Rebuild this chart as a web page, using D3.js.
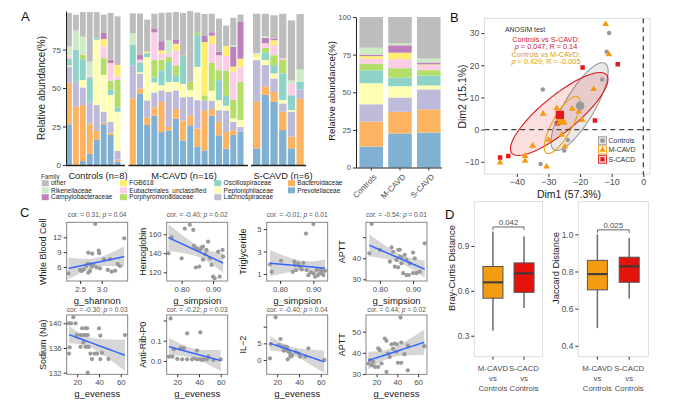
<!DOCTYPE html>
<html>
<head>
<meta charset="utf-8">
<script src="https://cdn.jsdelivr.net/npm/d3@7"></script>
<style>
  body { margin: 0; background: #fff; }
  svg text { font-family: "Liberation Sans", Arial, sans-serif; }
</style>
</head>
<body>
<div id="chart"></div>
<script>
// ---------- data ----------
// stacking order bottom -> top
const families = ["Prevotellaceae", "Bacteroidaceae", "Lachnospiraceae", "Peptoniphilaceae",
  "Oscillospiraceae", "Porphyromonadaceae", "Eubacteriales_unclassified", "FGB618",
  "Campylobacteraceae", "Rikenellaceae", "other"];
const famColors = ["#80b1d3", "#fdb462", "#bebada", "#ffffb3", "#8dd3c7", "#b3de69",
  "#fccde5", "#ffed6f", "#bc80bd", "#ccebc5", "#bdbdbd"];

const groups = ["Controls", "M-CAVD", "S-CAVD"];
const groupLabels = ["Controls (n=8)", "M-CAVD (n=16)", "S-CAVD (n=6)"];

// per-sample relative abundance (%), same order as families
const controlsAbund = [
  [26.5, 27, 10.4, 0.7, 4.5, 0, 1.5, 0.5, 0, 6, 21.7],
  [0, 37.8, 16.3, 0, 20.6, 0, 0, 0, 0, 12.6, 10.3],
  [2.6, 36.3, 11.5, 4.8, 13.5, 2.8, 0.6, 0, 0, 11.2, 16],
  [7.4, 19.6, 13.5, 0, 16.5, 0, 0.9, 0, 0, 9.3, 32.2],
  [16.5, 5.7, 16.7, 42.4, 1, 0, 0, 0, 0, 0, 17],
  [26.5, 0.9, 7.2, 23.9, 0, 10.9, 7.6, 4.8, 3.9, 0, 12],
  [19.6, 1.5, 7, 17.4, 3.3, 5.9, 11.5, 0, 2.2, 0, 30.4],
  [2.2, 1.3, 5.7, 25.4, 2.8, 17.8, 2.2, 7.6, 0, 0, 31.5]
];
const mcavdAbund = [
  [0, 43.3, 21.2, 0, 13.4, 0, 0, 0, 0, 7.6, 13],
  [46.5, 3.2, 9.7, 0.8, 6.5, 0, 1.7, 0, 3, 0, 27],
  [26, 5, 11, 28, 2.6, 0, 0, 1, 0, 0, 20.8],
  [32, 5.4, 9.7, 6.5, 3.2, 11.3, 18, 0, 2.6, 0, 9.6],
  [21.4, 19.5, 7.6, 3.2, 9.7, 6.9, 3.9, 2.2, 6, 0, 18.4],
  [22.5, 2.2, 22.7, 6.5, 13, 3.2, 2.2, 0, 0, 8.7, 18],
  [30, 6.5, 12, 5.4, 4.3, 6.5, 9.7, 4.3, 2.6, 0, 18],
  [16, 13, 15, 8.7, 18.4, 0, 0, 0, 0, 0, 27.7],
  [25.8, 6.5, 12, 4.3, 0, 5.4, 0, 0, 0, 0, 46],
  [11.7, 12, 18.4, 21.6, 20.6, 1.5, 0, 0, 0, 0, 13.2],
  [9.5, 26, 6.5, 0, 0, 3.2, 0, 34.6, 4.3, 0, 14],
  [32, 4.3, 5.4, 6.5, 0, 18.4, 12, 5.4, 2.2, 0, 12],
  [19.3, 8.7, 7.6, 6.5, 13, 6.5, 9.7, 0, 2.2, 0, 21.6],
  [10.6, 10.8, 14, 3, 6.5, 16.2, 9.7, 6.5, 0, 0, 13.2],
  [19.5, 3.2, 5.4, 2.2, 0, 12, 18.4, 3.2, 13, 1, 17.7],
  [21.6, 0, 3.2, 4.3, 0, 24.9, 9.7, 5.4, 23.8, 0, 4.8]
];
const scavdAbund = [
  [10.8, 30.3, 27, 2.2, 0, 0, 0, 1.5, 0, 1, 25.5],
  [45.5, 5.4, 14, 3.2, 5, 3, 3, 0, 3.5, 1, 14.5],
  [41, 6.5, 8.7, 3.2, 5.4, 6.5, 6.5, 3.2, 1, 0, 15.2],
  [22.7, 11.9, 5.4, 2.2, 17.3, 8.7, 1, 0, 0, 0, 29],
  [10.8, 7.6, 16.2, 1, 9.7, 0, 7.6, 0, 0, 2, 39],
  [0, 43, 6, 0, 5, 0, 0, 0, 0, 8, 36]
];
// group means
const groupMeanAbund = [
  [13.9, 16.6, 11.5, 14, 8.6, 4.4, 3.3, 1.7, 1, 4.6, 20.4],
  [22.6, 14.4, 9.5, 7.5, 5.7, 6.3, 6, 4.3, 4.9, 1.3, 17.5],
  [23.2, 15.4, 13.3, 2.6, 6.6, 3.6, 3.3, 0.5, 1.3, 2.6, 27.6]
];

// PCoA (Dim1, Dim2)
const ctrlPcoa = [[-10.8, 30], [-11.6, 24.2], [-13, 15.6], [-31.8, 12.5], [-23.9, -3.2],
  [-25, -6.5], [-32.5, -10.7], [-27.6, 2]];
const mcavdPcoa = [[-11.9, 32.8], [-10.9, 23.4], [-15.7, 12.6], [-22.5, 6.5], [-20.4, 5.6],
  [-27.4, 6.6], [-31.7, 4.9], [-19.3, 3], [-26.6, 2.7], [-25.3, 2.2], [-25.8, -1.6],
  [-30, -3.2], [-35, -5], [-24.8, -5.3], [-37.4, -8.2], [-37.4, -9.7], [-45.3, -10.2], [-30.6, -11.5]];
const scavdPcoa = [[-8.1, 20.3], [-19.2, 19.3], [-15.3, 2.8], [-27, 2], [-42.7, -8.2], [-45.3, -8.7]];
const pcoaCentroids = [[-20, 7.4], [-25.8, 2.6], [-26.4, 4.6]];
// confidence ellipses: centre, semi-axis vectors (data units)
const ellipseCenters = [[-20.15, 7.15], [-26.6, 4.85], [-25.7, 1.45]];
const ellipseMajor = [[8.05, 13.45], [15, 12.15], [4.9, 8.75]];
const ellipseMinor = [[4.1, -2.35], [3.62, -4.32], [2.78, -1.49]];

// correlation scatter panels
const wbcShannon = [[2.85, 14.7], [3.52, 11.8], [2.69, 8.9], [2.78, 8.7], [2.93, 9.3], [2.94, 8.8], [3.19, 7.6],
  [3.37, 6.6], [3.42, 6.2], [3.31, 5.25], [3.14, 5.4], [3.23, 5.05], [2.88, 5.9], [2.96, 5.7], [2.77, 6.06],
  [2.67, 6.6], [2.64, 6.2], [2.73, 6.6], [2.5, 5.4], [2.54, 5.2], [2.58, 5.5], [2.69, 4.85], [2.73, 5.2],
  [2.23, 4.7], [3.05, 7.55], [2.81, 6.4]];
const hgbSimpson = [[0.758, 140], [0.768, 156.8], [0.80, 134.7], [0.81, 166], [0.826, 170], [0.837, 164.6],
  [0.839, 147.7], [0.847, 145], [0.858, 143.5], [0.863, 146], [0.879, 143.5], [0.856, 126], [0.845, 125],
  [0.868, 133.3], [0.868, 147], [0.89, 134.7], [0.895, 127.7], [0.90, 115.4], [0.905, 113.7], [0.921, 115.4],
  [0.932, 136.5], [0.916, 141.7], [0.93, 143.5], [0.884, 152.2], [0.875, 139]];
const tgSimpson = [[0.90, 5.44], [0.878, 4.6], [0.803, 2.18], [0.77, 1.86], [0.775, 1.2], [0.843, 2.1],
  [0.855, 1.95], [0.838, 1.2], [0.86, 1.65], [0.87, 2.0], [0.865, 1.42], [0.88, 1.36], [0.885, 0.9],
  [0.892, 1.15], [0.90, 1.06], [0.905, 0.76], [0.91, 1.36], [0.913, 0.88], [0.92, 1.06], [0.925, 1.2],
  [0.93, 0.91], [0.935, 1.3], [0.922, 1.42], [0.845, 1.8], [0.848, 1.36]];
const apttSimpson = [[0.775, 56.3], [0.768, 42.4], [0.80, 44], [0.835, 45.2], [0.84, 43.1], [0.855, 44],
  [0.86, 40.8], [0.85, 39.2], [0.845, 36], [0.855, 35.7], [0.83, 38.4], [0.865, 37.6], [0.87, 32.9],
  [0.88, 32], [0.86, 44], [0.865, 40.3], [0.875, 41.6], [0.88, 39.2], [0.89, 37.6], [0.90, 42.7],
  [0.905, 40], [0.91, 32.9], [0.92, 33.6], [0.935, 47.1], [0.90, 32.9], [0.887, 32]];
const naEveness = [[16.4, 141], [12.4, 140], [14.5, 140], [18.5, 140], [13, 136.1], [12.4, 135.1], [23, 138.1],
  [25.5, 138.1], [27.5, 138.1], [29.6, 138.1], [19.4, 138.1], [24.5, 139.2], [27.5, 139.2], [29.1, 139.2],
  [40, 139.2], [41.2, 138], [23, 136.2], [27.5, 136.2], [29.6, 136.2], [25.5, 136.9], [32.1, 135.1],
  [36, 135.1], [38.2, 135.1], [30.5, 136.2], [42.7, 135.2], [33.6, 134.2], [41.2, 134.2], [48.7, 134.2],
  [29.6, 132], [63.9, 138.1]];
const ribEveness = [[13.9, 0.21], [29.1, 0.136], [41.2, 0.141], [16.9, 0.058], [23, 0.063], [26, 0.063],
  [12.4, 0.021], [15.5, 0.021], [24.5, 0.008], [29.1, 0.008], [33.6, 0.008], [38.2, 0.008], [41.2, 0.008],
  [38.2, 0.051], [44.2, 0.008], [47.3, 0.008], [48.7, 0.021], [42.7, 0.005], [53.3, 0.005], [60, 0.008],
  [20, 0.01], [35, 0.012]];
const il2Eveness = [[18.5, 12.8], [23, 6.3], [13.9, 4.8], [21.5, 4.5], [24.5, 4.0], [27.5, 4.0], [13.3, 0.5],
  [27.5, 3.0], [29.1, 3.8], [30.5, 2.5], [32.1, 1.8], [33.6, 1.3], [29.6, 0.2], [36.6, 2.5], [39.6, 2.0],
  [41.2, 1.0], [48.7, 3.5], [45.7, 1.0], [32.1, 1.0], [63.3, 0], [26, 2.8]];
const apttEveness = [[43.1, 56.7], [27.9, 46.8], [29.5, 45.7], [21.6, 42.1], [23.2, 41.3], [34.3, 44.1],
  [37.4, 44.4], [35.9, 42], [39, 40.5], [31.1, 39.7], [32.7, 38.1], [13.6, 36.6], [16.8, 35.8], [12, 35],
  [15.2, 34.2], [18.4, 33.4], [21.5, 33.4], [24.8, 35], [29.5, 31], [40.6, 35.3], [43.8, 35.3], [39.6, 44.1],
  [46.9, 39.4], [43.8, 44.9], [50.1, 43.6], [66, 43.2], [50.1, 31.8]];

const corTitles = [["0.31", "0.04"], ["-0.40", "0.02"], ["-0.01", "0.01"], ["-0.54", "0.01"],
  ["-0.30", "0.03"], ["-0.22", "0.03"], ["-0.40", "0.04"], ["0.44", "0.02"]];

// distance boxplots: [lower whisker, q1, median, q3, upper whisker]
const distGroups = ["M-CAVD", "S-CACD"];
const brayBox = [[0.333, 0.551, 0.657, 0.763, 0.997], [0.486, 0.59, 0.717, 0.787, 0.963]];
const jaccardBox = [[0.495, 0.701, 0.786, 0.86, 1.0], [0.654, 0.742, 0.828, 0.877, 0.98]];
const distPvals = ["0.042", "0.025"];

// ---------- drawing ----------
const W = 673, H = 410;
const FONT = "Liberation Sans, Arial, sans-serif";
const ORANGE = "#f39c12", RED = "#e41a1c", GREY = "#999999";

const svg = d3.select("#chart").append("svg")
  .attr("width", W).attr("height", H)
  .style("background", "#fff");

function styleAxis(g, fs, keepDomain) {
  g.attr("font-family", FONT).attr("font-size", fs);
  if (!keepDomain) g.select(".domain").remove();
  g.selectAll(".tick line").attr("stroke", "#333");
  g.selectAll(".tick text").attr("fill", "#4d4d4d");
}

// panel letters
[["A", 21, 21], ["B", 450, 22], ["C", 20, 217], ["D", 445, 219]].forEach(d => {
  svg.append("text").attr("x", d[1]).attr("y", d[2]).attr("font-size", 13).attr("fill", "#111").text(d[0]);
});

// ===== A: per-sample stacked bars =====
const yA = d3.scaleLinear().domain([0, 100]).range([165, 11]);
const facetRanges = [[66, 120.5], [129.8, 243.5], [253, 303.8]];
const facetAxis = [[66, 125], [128.5, 248], [251, 306]];
const facetLabelX = [98, 184, 283];
const stack = d3.stack().keys(d3.range(families.length)).value((d, k) => d[k]);

[controlsAbund, mcavdAbund, scavdAbund].forEach((rows, gi) => {
  const x = d3.scaleBand().domain(d3.range(rows.length)).range(facetRanges[gi]).paddingInner(0.16);
  const g = svg.append("g");
  g.selectAll("g").data(stack(rows)).enter().append("g")
    .attr("fill", (d, i) => famColors[i])
    .selectAll("rect").data(d => d).enter().append("rect")
    .attr("x", (d, i) => x(i))
    .attr("y", d => yA(d[1]))
    .attr("width", x.bandwidth())
    .attr("height", d => yA(d[0]) - yA(d[1]));
  svg.append("line")
    .attr("x1", facetAxis[gi][0]).attr("x2", facetAxis[gi][1])
    .attr("y1", yA(0) + 0.5).attr("y2", yA(0) + 0.5)
    .attr("stroke", "#222").attr("stroke-width", 1.6);
  svg.append("text").attr("x", facetLabelX[gi]).attr("y", 178.5)
    .attr("text-anchor", "middle").attr("font-size", 9.3).attr("fill", "#1a1a1a")
    .text(groupLabels[gi]);
});
svg.append("g").attr("transform", "translate(66,0)")
  .call(d3.axisLeft(yA).tickValues([0, 25, 50, 75]).tickSize(3).tickSizeOuter(0).tickPadding(2))
  .call(g => styleAxis(g, 8, true))
  .call(g => g.select(".domain").attr("stroke", "#222"));
svg.append("text").attr("transform", "translate(41.5,88) rotate(-90)")
  .attr("text-anchor", "middle").attr("dy", "0.35em").attr("font-size", 10).attr("fill", "#1a1a1a")
  .text("Relative abundance(%)");

// legend
svg.append("text").attr("x", 41).attr("y", 178.5).attr("font-size", 6.3).attr("fill", "#333").text("Family");
const legColX = [41.7, 120, 214.3, 288];
const legRowY = [183.2, 190.3, 197.2];
families.slice().reverse().forEach((f, i) => {
  const col = Math.floor(i / 3), row = i % 3;
  const ci = families.length - 1 - i;
  svg.append("rect").attr("x", legColX[col]).attr("y", legRowY[row] - 3)
    .attr("width", 7).attr("height", 6).attr("fill", famColors[ci]);
  svg.append("text").attr("x", legColX[col] + 9.3).attr("y", legRowY[row]).attr("dy", "0.35em")
    .attr("font-size", 6.5).attr("fill", "#222").text(f);
});

// ===== A: group mean stacked bars =====
const yA2 = d3.scaleLinear().domain([0, 100]).range([167.5, 17]);
const xA2 = d3.scaleBand().domain(groups).range([358, 442]).paddingInner(0.18).paddingOuter(0.05);
svg.append("g").selectAll("g").data(stack(groupMeanAbund)).enter().append("g")
  .attr("fill", (d, i) => famColors[i])
  .selectAll("rect").data(d => d).enter().append("rect")
  .attr("x", (d, i) => xA2(groups[i]))
  .attr("y", d => yA2(d[1]))
  .attr("width", xA2.bandwidth())
  .attr("height", d => yA2(d[0]) - yA2(d[1]));
svg.append("g").attr("transform", "translate(356,0)")
  .call(d3.axisLeft(yA2).tickValues([0, 25, 50, 75, 100]).tickSize(3).tickSizeOuter(0).tickPadding(2))
  .call(g => styleAxis(g, 7.6, true))
  .call(g => g.select(".domain").attr("stroke", "#222"));
svg.append("line").attr("x1", 356).attr("x2", 442).attr("y1", yA2(0) + 0.5).attr("y2", yA2(0) + 0.5)
  .attr("stroke", "#222").attr("stroke-width", 1.2);
groups.forEach(gname => {
  const cx = xA2(gname) + xA2.bandwidth() / 2;
  svg.append("line").attr("x1", cx).attr("x2", cx).attr("y1", yA2(0)).attr("y2", yA2(0) + 3).attr("stroke", "#333");
  svg.append("text").attr("transform", `translate(${cx + 2},${yA2(0) + 6}) rotate(-45)`)
    .attr("text-anchor", "end").attr("dy", "0.7em").attr("font-size", 8).attr("fill", "#4d4d4d").text(gname);
});
svg.append("text").attr("transform", "translate(331.5,91) rotate(-90)")
  .attr("text-anchor", "middle").attr("dy", "0.35em").attr("font-size", 9.6).attr("fill", "#1a1a1a")
  .text("Relative abundance(%)");

// ===== B: PCoA =====
const xB = d3.scaleLinear().domain([-50.3, 2.12]).range([484.3, 650]);
const yB = d3.scaleLinear().domain([-13.8, 34.6]).range([174, 18.3]);
svg.append("rect").attr("x", 484.3).attr("y", 18.3).attr("width", 650 - 484.3).attr("height", 174 - 18.3)
  .attr("fill", "#fff").attr("stroke", "#d4d4d4").attr("stroke-width", 0.8);
svg.append("defs").append("clipPath").attr("id", "clipB")
  .append("rect").attr("x", 484.3).attr("y", 18.3).attr("width", 650 - 484.3).attr("height", 174 - 18.3);
const gB = svg.append("g").attr("clip-path", "url(#clipB)");

const ellStyles = [
  { stroke: "#9a9a9a", fill: "#c8c8c8", op: 0.4 },
  { stroke: "#d7191c", fill: RED, op: 0.14 },
  { stroke: ORANGE, fill: "none", op: 0 }
];
ellipseCenters.forEach((c, i) => {
  const a = ellipseMajor[i], b = ellipseMinor[i];
  const pts = d3.range(0, 101).map(k => {
    const t = 2 * Math.PI * k / 100;
    return [c[0] + Math.cos(t) * a[0] + Math.sin(t) * b[0], c[1] + Math.cos(t) * a[1] + Math.sin(t) * b[1]];
  });
  gB.append("path").attr("d", d3.line().x(d => xB(d[0])).y(d => yB(d[1]))(pts) + "Z")
    .attr("fill", ellStyles[i].fill).attr("fill-opacity", ellStyles[i].op)
    .attr("stroke", ellStyles[i].stroke).attr("stroke-width", 1.1);
});
gB.append("line").attr("x1", 484.3).attr("x2", 650).attr("y1", yB(0)).attr("y2", yB(0))
  .attr("stroke", "#444").attr("stroke-width", 1.3).attr("stroke-dasharray", "5,4");
gB.append("line").attr("x1", xB(0)).attr("x2", xB(0)).attr("y1", 18.3).attr("y2", 174)
  .attr("stroke", "#444").attr("stroke-width", 1.3).attr("stroke-dasharray", "5,4");

const sym = {
  circle: (s) => d3.symbol().type(d3.symbolCircle).size(s)(),
  tri: (s) => d3.symbol().type(d3.symbolTriangle).size(s)(),
  sq: (s) => d3.symbol().type(d3.symbolSquare).size(s)()
};
function drawPts(data, shape, size, fill) {
  gB.selectAll(null).data(data).enter().append("path")
    .attr("transform", d => `translate(${xB(d[0])},${yB(d[1])})`)
    .attr("d", sym[shape](size)).attr("fill", fill);
}
drawPts(ctrlPcoa, "circle", 16, GREY);
drawPts(mcavdPcoa, "tri", 20, ORANGE);
drawPts(scavdPcoa, "sq", 20, RED);
drawPts([pcoaCentroids[0]], "circle", 60, GREY);
drawPts([pcoaCentroids[1]], "tri", 60, ORANGE);
drawPts([pcoaCentroids[2]], "sq", 70, RED);

svg.append("g").attr("transform", "translate(0,174)")
  .call(d3.axisBottom(xB).tickValues([-40, -30, -20, -10, 0]).tickSize(3).tickPadding(2).tickFormat(d3.format("d")))
  .call(g => styleAxis(g, 9));
svg.append("g").attr("transform", "translate(484.3,0)")
  .call(d3.axisLeft(yB).tickValues([-10, 0, 10, 20, 30]).tickSize(3).tickPadding(2).tickFormat(d3.format("d")))
  .call(g => styleAxis(g, 8.5));
svg.append("text").attr("x", 569).attr("y", 197.5).attr("text-anchor", "middle")
  .attr("font-size", 10.5).attr("fill", "#1a1a1a").text("Dim1 (57.3%)");
svg.append("text").attr("transform", "translate(462.5,96.5) rotate(-90)").attr("text-anchor", "middle")
  .attr("dy", "0.35em").attr("font-size", 10.5).attr("fill", "#1a1a1a").text("Dim2 (15.1%)");

// ANOSIM text
svg.append("text").attr("x", 505).attr("y", 31.5).attr("font-size", 6.9).attr("fill", "#333").text("ANOSIM test");
function annot(y, parts, color) {
  const t = svg.append("text").attr("x", 546).attr("y", y).attr("text-anchor", "middle")
    .attr("font-size", 7.3).attr("fill", color);
  parts.forEach(p => t.append("tspan").attr("font-style", p[1] ? "italic" : "normal").text(p[0]));
}
annot(41.8, [["Controls vs S-CAVD:", 0]], "#cc2233");
annot(49.3, [["p", 1], [" = 0.047; R = 0.14", 0]], "#cc2233");
annot(56.8, [["Controls vs M-CAVD:", 0]], "#e39a0a");
annot(64.3, [["p", 1], [" = 0.429; R = -0.005", 0]], "#e39a0a");

// legend B
const legB = [["Controls", "circle", GREY, "#9a9a9a", "#e6e6e6"], ["M-CAVD", "tri", ORANGE, ORANGE, "#fff"],
  ["S-CACD", "sq", RED, RED, "#fbe0e0"]];
legB.forEach((d, i) => {
  const y = 140.7 + i * 9.3;
  svg.append("rect").attr("x", 598.5).attr("y", y - 4).attr("width", 8).attr("height", 8)
    .attr("fill", d[4]).attr("stroke", d[3]).attr("stroke-width", 0.9);
  svg.append("path").attr("transform", `translate(602.5,${y})`).attr("d", sym[d[1]](18)).attr("fill", d[2]);
  svg.append("text").attr("x", 608.5).attr("y", y).attr("dy", "0.35em").attr("font-size", 7)
    .attr("fill", "#333").text(d[0]);
});

// ===== C: correlation scatter panels =====
const cCols = [66.7, 166.7, 266.7, 366];
const cRows = [{ top: 222.3, bottom: 281, title: 217 }, { top: 315, bottom: 374.3, title: 311.8 }];
const cPW = 61;
const cPanels = [
  { pts: wbcShannon, xd: [2.19, 3.6], yd: [3.16, 15.04], xt: [2.5, 3.0], xf: ".1f", yt: [6, 9, 12], yl: ["6", "9", "12"], ylab: "White Blood Cell", xlab: "g_shannon" },
  { pts: hgbSimpson, xd: [0.7525, 0.9465], yd: [110.8, 172.6], xt: [0.8, 0.9], xf: ".2f", yt: [120, 140, 160], yl: ["120", "140", "160"], ylab: "Hemoglobin", xlab: "g_simpsion" },
  { pts: tgSimpson, xd: [0.76, 0.943], yd: [0.38, 5.6], xt: [0.8, 0.9], xf: ".2f", yt: [1, 3, 5], yl: ["1", "3", "5"], ylab: "Triglyceride", xlab: "g_simpsion" },
  { pts: apttSimpson, xd: [0.758, 0.942], yd: [29.2, 57.1], xt: [0.8, 0.9], xf: ".2f", yt: [30, 40, 50], yl: ["30", "40", ""], ylab: "APTT", xlab: "g_simpsion" },
  { pts: naEveness, xd: [10.3, 66.4], yd: [131.74, 141.35], xt: [20, 40, 60], xf: "d", yt: [132, 136, 140], yl: ["132", "136", "140"], ylab: "Sodium (Na)", xlab: "g_eveness" },
  { pts: ribEveness, xd: [10.3, 66.4], yd: [-0.066, 0.227], xt: [20, 40, 60], xf: "d", yt: [0, 0.1, 0.2], yl: ["0.0", "0.1", ""], ylab: "Anti-Rib-P0", xlab: "g_eveness" },
  { pts: il2Eveness, xd: [10.3, 66.4], yd: [-4.3, 13.5], xt: [20, 40, 60], xf: "d", yt: [0, 5, 10], yl: ["0", "5", ""], ylab: "IL\u22122", xlab: "g_eveness" },
  { pts: apttEveness, xd: [9.8, 68.6], yd: [29.9, 57.9], xt: [20, 40, 60], xf: "d", yt: [30, 40, 50], yl: ["30", "40", "50"], ylab: "APTT", xlab: "g_eveness" }
];

function lmBand(pts) {
  const n = pts.length;
  const mx = d3.mean(pts, d => d[0]), my = d3.mean(pts, d => d[1]);
  const sxx = d3.sum(pts, d => (d[0] - mx) ** 2);
  const b = d3.sum(pts, d => (d[0] - mx) * (d[1] - my)) / sxx, a = my - b * mx;
  const s = Math.sqrt(d3.sum(pts, d => (d[1] - a - b * d[0]) ** 2) / (n - 2));
  const df = n - 2, t = 1.96 + 2.37 / df + 2.8 / (df * df);
  const [x0, x1] = d3.extent(pts, d => d[0]);
  return d3.range(0, 81).map(i => {
    const x = x0 + (x1 - x0) * i / 80, yh = a + b * x;
    const se = s * Math.sqrt(1 / n + (x - mx) ** 2 / sxx);
    return { x, y: yh, lo: yh - t * se, hi: yh + t * se };
  });
}

cPanels.forEach((p, i) => {
  const row = cRows[Math.floor(i / 4)], left = cCols[i % 4];
  const x = d3.scaleLinear().domain(p.xd).range([left, left + cPW]);
  const y = d3.scaleLinear().domain(p.yd).range([row.bottom, row.top]);
  const cid = "clipC" + i;
  svg.append("clipPath").attr("id", cid).append("rect")
    .attr("x", left).attr("y", row.top).attr("width", cPW).attr("height", row.bottom - row.top);
  const g = svg.append("g").attr("clip-path", `url(#${cid})`);
  const band = lmBand(p.pts);
  g.selectAll(null).data(p.pts).enter().append("circle")
    .attr("cx", d => x(d[0])).attr("cy", d => y(d[1])).attr("r", 2.1).attr("fill", "#9a9a9a");
  g.append("path").attr("d", d3.area().x(d => x(d.x)).y0(d => y(d.lo)).y1(d => y(d.hi))(band))
    .attr("fill", "#999").attr("fill-opacity", 0.4);
  g.append("path").attr("d", d3.line().x(d => x(d.x)).y(d => y(d.y))(band))
    .attr("fill", "none").attr("stroke", "#3366ff").attr("stroke-width", 1.5);
  svg.append("rect").attr("x", left).attr("y", row.top).attr("width", cPW).attr("height", row.bottom - row.top)
    .attr("fill", "none").attr("stroke", "#7a7a7a").attr("stroke-width", 0.9);
  svg.append("g").attr("transform", `translate(0,${row.bottom})`)
    .call(d3.axisBottom(x).tickValues(p.xt).tickSize(3).tickPadding(2).tickFormat(d3.format(p.xf)))
    .call(g => styleAxis(g, 7.8));
  svg.append("g").attr("transform", `translate(${left},0)`)
    .call(d3.axisLeft(y).tickValues(p.yt).tickSize(3).tickPadding(2).tickFormat((d, k) => p.yl[k]))
    .call(g => styleAxis(g, 7.8));
  const tt = svg.append("text").attr("x", left + cPW / 2).attr("y", row.title).attr("text-anchor", "middle")
    .attr("font-size", 6.6).attr("fill", "#555");
  tt.append("tspan").text(`cor. = ${corTitles[i][0]}; `);
  tt.append("tspan").attr("font-style", "italic").text("p");
  tt.append("tspan").text(` = ${corTitles[i][1]}`);
  svg.append("text").attr("x", left + cPW / 2).attr("y", row.bottom + 23).attr("text-anchor", "middle")
    .attr("font-size", 9.5).attr("fill", "#1a1a1a").text(p.xlab);
  svg.append("text").attr("transform", `translate(${left - 24},${(row.top + row.bottom) / 2}) rotate(-90)`)
    .attr("text-anchor", "middle").attr("dy", "0.35em").attr("font-size", 9).attr("fill", "#1a1a1a").text(p.ylab);
});

// ===== D: distance boxplots =====
const dPanels = [
  { stats: brayBox, left: 474.3, right: 542.7, yd: [0.16, 1.196], yt: [0.3, 0.6, 0.9], ylab: "Bray-Curtis Distance", p: distPvals[0] },
  { stats: jaccardBox, left: 578.3, right: 648.3, yd: [0.341, 1.176], yt: [0.4, 0.6, 0.8, 1.0], ylab: "Jaccard Distance", p: distPvals[1] }
];
const dTop = 201.7, dBottom = 356.7, boxW = 20;
const boxFill = [ORANGE, "#e3120b"];
dPanels.forEach(p => {
  const x = d3.scalePoint().domain(distGroups).range([p.left, p.right]).padding(0.6);
  const y = d3.scaleLinear().domain(p.yd).range([dBottom, dTop]);
  svg.append("rect").attr("x", p.left).attr("y", dTop).attr("width", p.right - p.left).attr("height", dBottom - dTop)
    .attr("fill", "#fff").attr("stroke", "#d4d4d4").attr("stroke-width", 0.8);
  p.stats.forEach((s, k) => {
    const cx = x(distGroups[k]);
    svg.append("line").attr("x1", cx).attr("x2", cx).attr("y1", y(s[0])).attr("y2", y(s[4]))
      .attr("stroke", "#6b6b6b").attr("stroke-width", 1.5);
    svg.append("rect").attr("x", cx - boxW / 2).attr("y", y(s[3])).attr("width", boxW).attr("height", y(s[1]) - y(s[3]))
      .attr("fill", boxFill[k]).attr("stroke", "#555").attr("stroke-width", 1);
    svg.append("line").attr("x1", cx - boxW / 2).attr("x2", cx + boxW / 2).attr("y1", y(s[2])).attr("y2", y(s[2]))
      .attr("stroke", "#3a3a3a").attr("stroke-width", 2);
  });
  const x1 = x(distGroups[0]), x2 = x(distGroups[1]);
  const by = y(d3.max(p.stats, s => s[4])) - 4.5;
  svg.append("path").attr("d", `M${x1},${by + 3}V${by}H${x2}V${by + 3}`)
    .attr("fill", "none").attr("stroke", "#555").attr("stroke-width", 0.9);
  svg.append("text").attr("x", (x1 + x2) / 2).attr("y", by - 2).attr("text-anchor", "middle")
    .attr("font-size", 7.8).attr("fill", "#4d4d4d").text(p.p);
  svg.append("g").attr("transform", `translate(${p.left},0)`)
    .call(d3.axisLeft(y).tickValues(p.yt).tickSize(3).tickPadding(2).tickFormat(d3.format(".1f")))
    .call(g => styleAxis(g, 8.4));
  svg.append("text").attr("transform", `translate(${p.left - 22.5},268) rotate(-90)`).attr("text-anchor", "middle")
    .attr("dy", "0.35em").attr("font-size", 9.4).attr("fill", "#1a1a1a").text(p.ylab);
  distGroups.forEach(gname => {
    const cx = x(gname);
    svg.append("line").attr("x1", cx).attr("x2", cx).attr("y1", dBottom).attr("y2", dBottom + 3).attr("stroke", "#333");
    [gname, "vs", "Controls"].forEach((ln, j) => {
      svg.append("text").attr("x", cx).attr("y", 371 + j * 10).attr("text-anchor", "middle")
        .attr("font-size", 7.8).attr("fill", "#4d4d4d").text(ln);
    });
  });
});
</script>
</body>
</html>
